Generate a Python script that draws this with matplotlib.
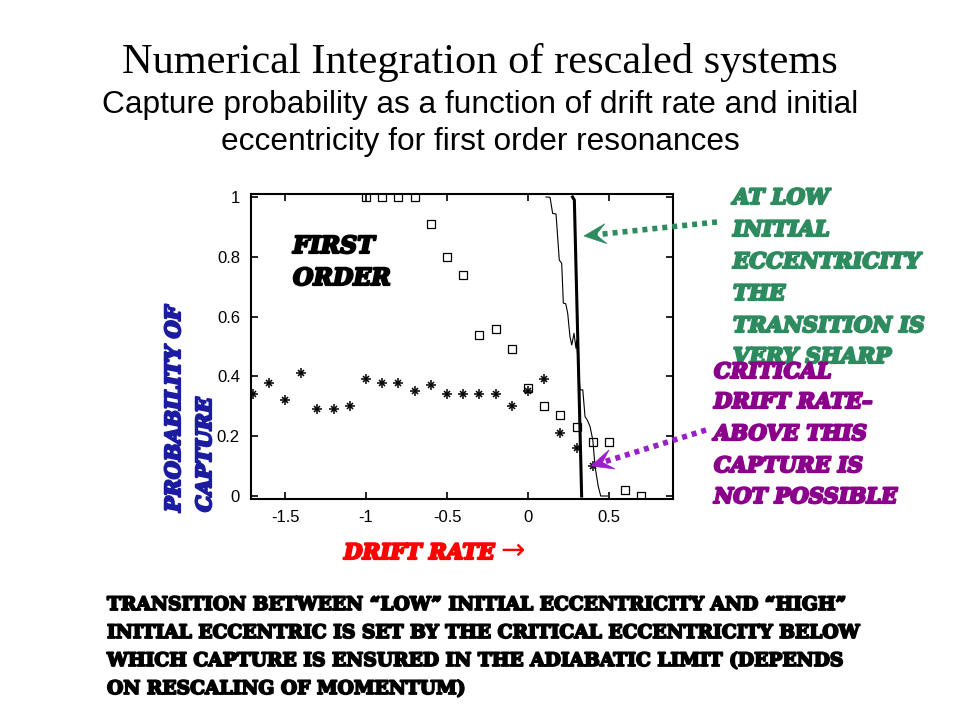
import matplotlib
matplotlib.use("Agg")
import matplotlib.pyplot as plt
from matplotlib.patches import Polygon
import matplotlib.patheffects as pe
import numpy as np

# ---------------- data ----------------
star_x = [-1.7, -1.6, -1.5, -1.4, -1.3, -1.2, -1.1, -1.0, -0.9, -0.8, -0.7,
          -0.6, -0.5, -0.4, -0.3, -0.2, -0.1, 0.0, 0.1, 0.2, 0.3, 0.4]
star_y = [0.34, 0.378, 0.32, 0.41, 0.29, 0.29, 0.30, 0.39, 0.378, 0.378, 0.35,
          0.37, 0.34, 0.34, 0.34, 0.34, 0.30, 0.35, 0.39, 0.21, 0.16, 0.10]

sq_x = [-1.0, -0.9, -0.8, -0.7, -0.6, -0.5, -0.4, -0.3, -0.2, -0.1, 0.0,
        0.1, 0.2, 0.3, 0.4, 0.5, 0.6, 0.7]
sq_y = [1.0, 1.0, 1.0, 1.0, 0.91, 0.80, 0.74, 0.54, 0.56, 0.49, 0.36,
        0.30, 0.27, 0.23, 0.18, 0.18, 0.02, 0.0]

thin_x = [0.111, 0.136, 0.152, 0.173, 0.193, 0.208, 0.218, 0.233, 0.245, 0.259,
          0.270, 0.284, 0.296, 0.300, 0.321, 0.338, 0.352, 0.366, 0.383, 0.400,
          0.414, 0.434, 0.449, 0.49]
thin_y = [1.0, 0.999, 0.945, 0.943, 0.789, 0.778, 0.645, 0.643, 0.611, 0.533,
          0.505, 0.544, 0.494, 0.52, 0.355, 0.355, 0.265, 0.254, 0.232, 0.187,
          0.098, 0.031, 0.0, 0.0]

thick_x = [0.275, 0.286, 0.331]
thick_y = [1.0, 0.99, 0.0]

x_ticks = [-1.5, -1.0, -0.5, 0.0, 0.5]
x_tick_labels = ["-1.5", "-1", "-0.5", "0", "0.5"]
y_ticks = [0, 0.2, 0.4, 0.6, 0.8, 1.0]
y_tick_labels = ["0", "0.2", "0.4", "0.6", "0.8", "1"]

GREEN = "#2e8b5f"
PURPLE = "#8b008b"
PURPLE_ARROW = "#9b1fc8"
BLUE = "#1c1ca0"

# ---------------- figure ----------------
fig = plt.figure(figsize=(9.6, 7.2), dpi=100)
fig.patch.set_facecolor("white")

ax = fig.add_axes([251 / 960, 1 - 499 / 720, (673 - 251) / 960, (499 - 194) / 720])
ax.plot(thin_x, thin_y, color="black", lw=0.8)
ax.plot(thick_x, thick_y, color="black", lw=2.2)
ax.plot(sq_x, sq_y, ls="none", marker="s", ms=5.5, mfc="none", mec="black", mew=0.9)
ax.plot(star_x, star_y, ls="none", marker="+", ms=7, mec="black", mew=1.1)
ax.plot(star_x, star_y, ls="none", marker="x", ms=5, mec="black", mew=1.1)

ax.set_xlim(-1.71, 0.895)
ax.set_ylim(-0.01, 1.01)
ax.set_xticks(x_ticks)
ax.set_xticklabels(x_tick_labels)
ax.set_yticks(y_ticks)
ax.set_yticklabels(y_tick_labels)
ax.tick_params(direction="in", length=5, width=1.2, top=True, right=True,
               labelsize=12, pad=8)
for lab in ax.get_xticklabels() + ax.get_yticklabels():
    lab.set_fontfamily("Liberation Sans")
for s in ax.spines.values():
    s.set_linewidth(1.5)

# overlay in pixel coordinates
ov = fig.add_axes([0, 0, 1, 1])
ov.set_xlim(0, 960)
ov.set_ylim(720, 0)
ov.axis("off")
ov.patch.set_alpha(0)

renderer = fig.canvas.get_renderer()


def fit(t, width=None, height=None):
    bb = t.get_window_extent(renderer)
    if width is not None:
        t.set_fontsize(t.get_fontsize() * width / bb.width)
    else:
        t.set_fontsize(t.get_fontsize() * height / bb.height)
    return t.get_fontsize()


def heavy(color, w=1.6):
    return [pe.withStroke(linewidth=w, foreground=color)]


# titles
t = ov.text(480, 63, "Numerical Integration of rescaled systems", ha="center", va="center",
            family="Liberation Serif", fontsize=30)
fit(t, 715)
t = ov.text(480, 105, "Capture probability as a function of drift rate and initial",
            ha="center", va="center", family="Liberation Sans", fontsize=16)
fs_sub = fit(t, 760)
ov.text(480, 142, "eccentricity for first order resonances", ha="center", va="center",
        family="Liberation Sans", fontsize=fs_sub)

HEAVY = dict(family="DejaVu Serif", weight="bold", style="italic")

# FIRST ORDER
t = ov.text(293, 247, "FIRST", ha="left", va="center", color="black", fontsize=14,
            path_effects=heavy("black"), **HEAVY)
fs = fit(t, 82)
ov.text(293, 279, "ORDER", ha="left", va="center", color="black", fontsize=fs,
        path_effects=heavy("black"), **HEAVY)

# green text
green_lines = ["AT LOW", "INITIAL", "ECCENTRICITY", "THE", "TRANSITION IS", "VERY SHARP"]
green_y = [198, 230, 262, 294, 326, 357]
t = ov.text(733, green_y[2], green_lines[2], ha="left", va="center", color=GREEN,
            fontsize=14, path_effects=heavy(GREEN), **HEAVY)
fs_g = fit(t, 188)
for s, y in zip(green_lines, green_y):
    if s != green_lines[2]:
        ov.text(733, y, s, ha="left", va="center", color=GREEN, fontsize=fs_g,
                path_effects=heavy(GREEN), **HEAVY)

# purple text
purple_lines = ["CRITICAL", "DRIFT RATE\u2013", "ABOVE THIS", "CAPTURE IS", "NOT POSSIBLE"]
purple_y = [372, 402, 434, 466, 497]
t = ov.text(714, purple_y[4], purple_lines[4], ha="left", va="center", color=PURPLE,
            fontsize=14, path_effects=heavy(PURPLE), **HEAVY)
fs_p = fit(t, 184)
for s, y in zip(purple_lines[:4], purple_y[:4]):
    ov.text(714, y, s, ha="left", va="center", color=PURPLE, fontsize=fs_p,
            path_effects=heavy(PURPLE), **HEAVY)

# y label
t = ov.text(174, 512, "PROBABILITY OF", rotation=90, ha="center", va="bottom",
            color=BLUE, fontsize=14, path_effects=heavy(BLUE), **HEAVY)
fs_y = fit(t, height=207)
ov.text(205, 512, "CAPTURE", rotation=90, ha="center", va="bottom",
        color=BLUE, fontsize=fs_y, path_effects=heavy(BLUE), **HEAVY)

# x label
t = ov.text(344, 553, "DRIFT RATE", ha="left", va="center", color="red", fontsize=14,
            path_effects=heavy("red"), **HEAVY)
fit(t, 151)
ov.text(500, 551, "\u2192", ha="left", va="center", color="red", fontsize=21,
        family="DejaVu Sans")

# bottom text
bottom_lines = ["TRANSITION BETWEEN \u201cLOW\u201d INITIAL ECCENTRICITY AND \u201cHIGH\u201d",
                "INITIAL ECCENTRIC IS SET BY THE CRITICAL ECCENTRICITY BELOW",
                "WHICH CAPTURE IS ENSURED IN THE ADIABATIC LIMIT (DEPENDS",
                "ON RESCALING OF MOMENTUM)"]
bottom_y = [605, 633, 661, 689]
t = ov.text(107, bottom_y[1], bottom_lines[1], ha="left", va="center", color="black",
            fontsize=13, family="DejaVu Serif", weight="bold",
            path_effects=heavy("black", 1.3))
fs_b = fit(t, 751)
for s, y in zip(bottom_lines, bottom_y):
    if s != bottom_lines[1]:
        ov.text(107, y, s, ha="left", va="center", color="black", fontsize=fs_b,
                family="DejaVu Serif", weight="bold", path_effects=heavy("black", 1.3))


# arrows
def dotted_arrow(x0, y0, x1, y1, color, hl=22, hw=20):
    d = np.array([x1 - x0, y1 - y0], float)
    L = np.hypot(*d)
    u = d / L
    n = np.array([-u[1], u[0]])
    tip = np.array([x1, y1], float)
    base = tip - u * hl
    notch = tip - u * hl * 0.55
    ov.plot([x0, notch[0]], [y0, notch[1]], color=color, lw=4,
            ls=(0, (0.9, 0.9)), solid_capstyle="butt", dash_capstyle="butt")
    poly = Polygon([tip, base + n * hw / 2, notch, base - n * hw / 2], closed=True,
                   facecolor=color, edgecolor=color, lw=0.5)
    ov.add_patch(poly)


dotted_arrow(717, 222, 584, 236, GREEN)
dotted_arrow(706, 430, 591, 466, PURPLE_ARROW)

fig.savefig("out.png", dpi=100, facecolor="white")
